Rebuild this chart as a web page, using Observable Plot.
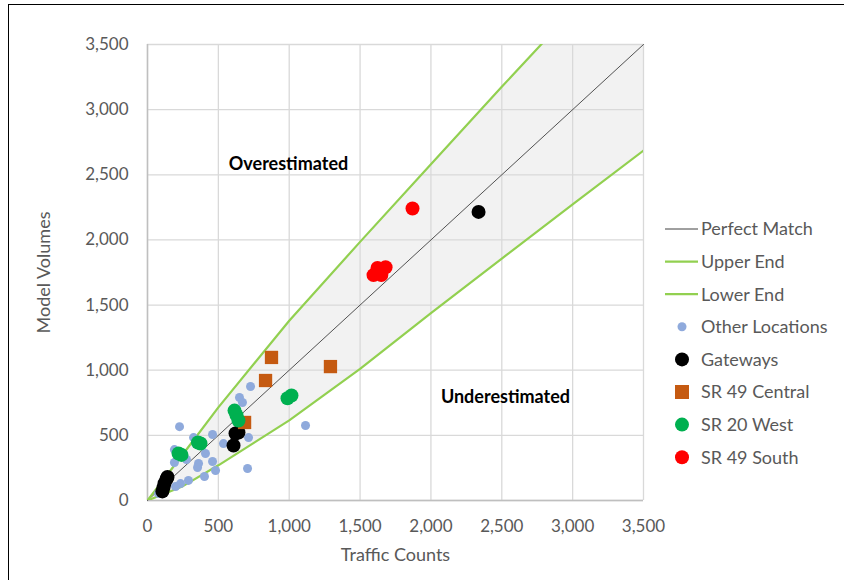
<!DOCTYPE html>
<html>
<head>
<meta charset="utf-8">
<script src="https://cdn.jsdelivr.net/npm/d3@7"></script>
<script src="https://cdn.jsdelivr.net/npm/@observablehq/plot@0.6"></script>
<style>
  html, body { margin: 0; padding: 0; background: #fff; }
  #wrap { position: relative; width: 844px; height: 580px; overflow: hidden; }
  #border { position: absolute; left: 8px; top: 4px; width: 900px; height: 700px; border-left: 1.5px solid #000; border-top: 1.5px solid #000; box-sizing: border-box; }
  #chart { position: absolute; left: 0; top: 0; }
  #legend { position: absolute; left: 0; top: 0; }
</style>
</head>
<body>
<div id="wrap">
  <div id="border"></div>
  <div id="chart"></div>
  <svg id="legend" width="844" height="580"></svg>
</div>
<script>
// ---- data (traffic count, model volume) ----
const axisTicks = [0, 500, 1000, 1500, 2000, 2500, 3000, 3500];
const perfectMatch = [0, 3500];
const bandX     = [0, 250, 500, 1000, 1500, 2000, 2500, 3000, 3500];
const upperEnd  = [0, 355, 715, 1380, 1985, 2580, 3175, 3760, 4330];
const lowerEnd  = [0, 110, 270, 615, 1010, 1439, 1857, 2272, 2686];

const otherLocations = [
  [727, 875], [649, 791], [670, 752], [226, 567], [325, 483], [459, 507],
  [536, 437], [713, 483], [1115, 576], [190, 391], [409, 361], [275, 315],
  [190, 292], [360, 284], [459, 299], [353, 253], [480, 230], [706, 246],
  [402, 184], [289, 154], [233, 130], [198, 107], [78, 54]
];
const gateways = [
  [105, 70], [113, 100], [120, 130], [134, 165], [141, 180],
  [621, 514], [642, 522], [607, 422], [2336, 2215]
];
const sr49Central = [[875, 1098], [833, 921], [1291, 1028], [685, 599]];
const sr20West = [
  [1016, 806], [988, 785], [614, 690], [628, 655], [642, 614],
  [374, 437], [356, 445], [219, 361], [240, 350]
];
const sr49South = [[1870, 2241], [1623, 1785], [1680, 1790], [1595, 1730], [1650, 1730]];

const annotations = [
  {label: "Overestimated", x: 995, y: 2580},
  {label: "Underestimated", x: 2526, y: 790}
];

const legendItems = [
  {name: "Perfect Match", type: "line", color: "#404040", w: 1},
  {name: "Upper End", type: "line", color: "#92d050", w: 2.2},
  {name: "Lower End", type: "line", color: "#92d050", w: 2.2},
  {name: "Other Locations", type: "dot", color: "#8faadc", r: 4.5},
  {name: "Gateways", type: "dot", color: "#000000", r: 7},
  {name: "SR 49 Central", type: "square", color: "#c55a11", r: 7},
  {name: "SR 20 West", type: "dot", color: "#00b050", r: 7},
  {name: "SR 49 South", type: "dot", color: "#ff0000", r: 7}
];

const band = bandX.map((x, i) => ({x, lo: lowerEnd[i], hi: upperEnd[i]}));

const chart = Plot.plot({
  width: 844,
  height: 580,
  marginLeft: 147,
  marginRight: 201,
  marginTop: 44,
  marginBottom: 80,
  style: {fontFamily: "Lato, 'Open Sans', sans-serif", fontSize: "17px", color: "#595959", background: "transparent"},
  x: {domain: [0, 3500]},
  y: {domain: [0, 3500]},
  marks: [
    Plot.areaY(band, {x: "x", y1: "lo", y2: "hi", fill: "#f2f2f2", clip: true}),
    Plot.gridX(axisTicks, {stroke: "#d9d9d9", strokeOpacity: 1, strokeWidth: 1.3}),
    Plot.gridY(axisTicks, {stroke: "#d9d9d9", strokeOpacity: 1, strokeWidth: 1.3}),
    Plot.ruleX([0], {stroke: "#bfbfbf", strokeWidth: 1.5}),
    Plot.ruleY([0], {stroke: "#bfbfbf", strokeWidth: 1.5}),
    Plot.axisX(axisTicks, {tickSize: 0, tickPadding: 19, tickFormat: d3.format(","), label: null}),
    Plot.axisY(axisTicks, {tickSize: 0, tickPadding: 19, tickFormat: d3.format(","), label: null}),
    Plot.line(perfectMatch, {x: d => d, y: d => d, stroke: "#404040", strokeWidth: 0.9}),
    Plot.line(band, {x: "x", y: "hi", stroke: "#92d050", strokeWidth: 2.2, clip: true}),
    Plot.line(band, {x: "x", y: "lo", stroke: "#92d050", strokeWidth: 2.2, clip: true}),
    Plot.dot(otherLocations, {x: d => d[0], y: d => d[1], r: 4.5, fill: "#8faadc"}),
    Plot.dot(gateways, {x: d => d[0], y: d => d[1], r: 7, fill: "#000000"}),
    Plot.dot(sr49Central, {x: d => d[0], y: d => d[1], r: 7.5, symbol: "square", fill: "#c55a11"}),
    Plot.dot(sr20West, {x: d => d[0], y: d => d[1], r: 7, fill: "#00b050"}),
    Plot.dot(sr49South, {x: d => d[0], y: d => d[1], r: 7, fill: "#ff0000"}),
    Plot.text(annotations, {x: "x", y: "y", text: "label", fontWeight: "bold", fontSize: 18, fill: "#000"}),
    Plot.text(["Traffic Counts"], {frameAnchor: "bottom", lineAnchor: "middle", textAnchor: "middle", dy: 55, text: d => d, fontSize: 18, fill: "#595959"}),
    Plot.text(["Model Volumes"], {frameAnchor: "left", lineAnchor: "middle", textAnchor: "middle", dx: -103, rotate: -90, text: d => d, fontSize: 18, fill: "#595959"})
  ]
});
document.getElementById("chart").appendChild(chart);

// ---- legend ----
const lg = d3.select("#legend");
const ly0 = 229, lstep = 32.6;
legendItems.forEach((it, i) => {
  const y = ly0 + i * lstep;
  if (it.type === "line") {
    lg.append("line").attr("x1", 665).attr("x2", 698).attr("y1", y).attr("y2", y)
      .attr("stroke", it.color).attr("stroke-width", it.w);
  } else if (it.type === "square") {
    lg.append("rect").attr("x", 682 - it.r).attr("y", y - it.r).attr("width", it.r * 2).attr("height", it.r * 2)
      .attr("fill", it.color);
  } else {
    lg.append("circle").attr("cx", 682).attr("cy", y).attr("r", it.r).attr("fill", it.color);
  }
  lg.append("text").attr("x", 701).attr("y", y).attr("dy", "0.35em")
    .attr("font-family", "Lato, 'Open Sans', sans-serif").attr("font-size", 18).attr("fill", "#595959")
    .text(it.name);
});
</script>
</body>
</html>
